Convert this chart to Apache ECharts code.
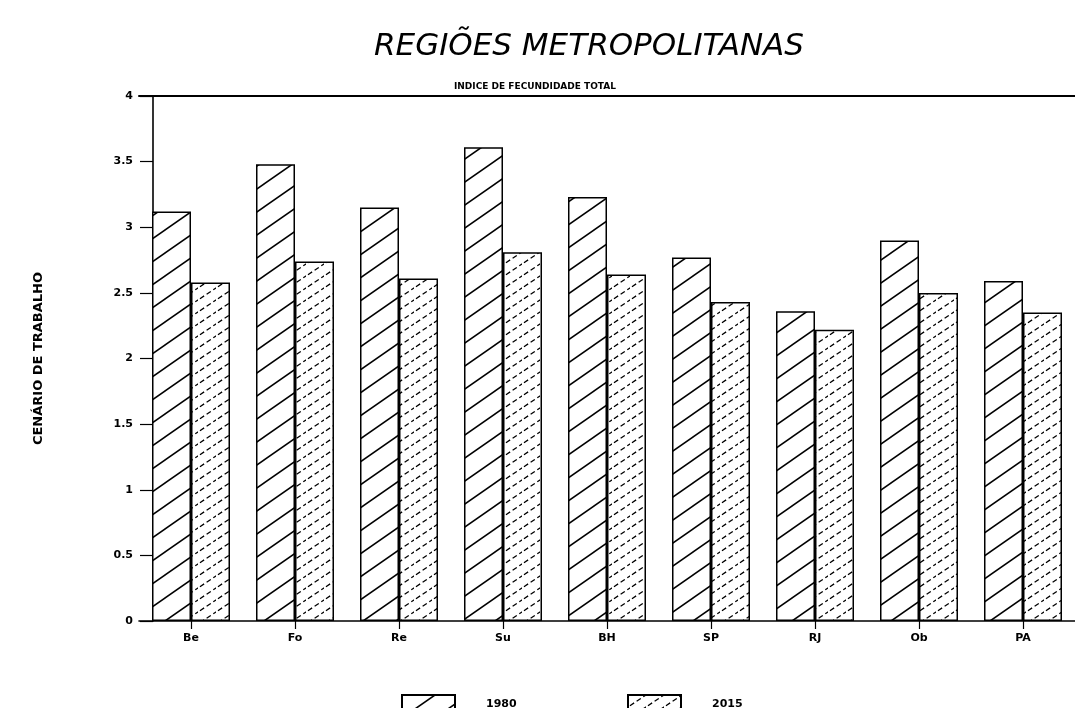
<!DOCTYPE html>
<html>
<head>
<meta charset="utf-8">
<script src="https://cdn.jsdelivr.net/npm/echarts@6/dist/echarts.min.js"></script>
<style>
html,body{margin:0;padding:0;background:#fff;}
#chart{width:1075px;height:708px;}
</style>
</head>
<body>
<div id="chart"></div>
<script>
const categories = ['Be', 'Fo', 'Re', 'Su', 'BH', 'SP', 'RJ', 'Ob', 'PA'];
const values1980 = [3.12, 3.48, 3.15, 3.61, 3.23, 2.77, 2.36, 2.90, 2.59];
const values2015 = [2.58, 2.74, 2.61, 2.81, 2.64, 2.43, 2.22, 2.50, 2.35];
const seriesNames = ['1980', '2015'];
const yTicks = { min: 0, max: 4, interval: 0.5 };
const titleText = 'REGIÕES METROPOLITANAS';
const subtitleText = 'INDICE DE FECUNDIDADE TOTAL';
const yAxisTitle = 'CENÁRIO DE TRABALHO';

function hatch(w, h, lw, dash) {
  const c = document.createElement('canvas');
  c.width = w; c.height = h;
  const ctx = c.getContext('2d');
  ctx.fillStyle = '#fff';
  ctx.fillRect(0, 0, w, h);
  ctx.strokeStyle = '#000';
  ctx.lineWidth = lw;
  if (dash) ctx.setLineDash(dash);
  for (let k = -1; k <= 1; k++) {
    ctx.beginPath();
    ctx.moveTo(-w, 2 * h + k * h);
    ctx.lineTo(2 * w, -h + k * h);
    ctx.stroke();
  }
  return c;
}
const pat1980 = { image: hatch(33, 23, 1.6, null), repeat: 'repeat' };
const pat2015 = { image: hatch(18, 12, 1.3, [5, 3]), repeat: 'repeat' };

const chart = echarts.init(document.getElementById('chart'), null, { renderer: 'canvas' });
const bold = { fontFamily: 'DejaVu Sans', fontWeight: 'bold', color: '#000' };

chart.setOption({
  backgroundColor: '#fff',
  animation: false,
  title: [
    { text: titleText, left: 584, top: 26, textAlign: 'center',
      textStyle: { fontFamily: 'DejaVu Sans', fontStyle: 'italic', fontWeight: 'normal', fontSize: 31, color: '#000' } },
    { text: subtitleText, left: 530, top: 77, textAlign: 'center',
      textStyle: Object.assign({}, bold, { fontSize: 9 }) }
  ],
  legend: [
    { data: [seriesNames[0]], left: 396, top: 689, itemWidth: 53, itemHeight: 18, icon: 'rect',
      textStyle: Object.assign({}, bold, { fontSize: 11, padding: [0, 0, 0, 26] }) },
    { data: [seriesNames[1]], left: 622, top: 689, itemWidth: 53, itemHeight: 18, icon: 'rect',
      textStyle: Object.assign({}, bold, { fontSize: 11, padding: [0, 0, 0, 26] }) }
  ],
  grid: { left: 139, right: -24, top: 96, bottom: 87, containLabel: false },
  xAxis: [
    { type: 'category', data: categories, position: 'bottom',
      axisLine: { lineStyle: { color: '#000', width: 1.6 } },
      axisTick: { show: true, alignWithLabel: true, length: 8, lineStyle: { color: '#000', width: 1.2 } },
      axisLabel: Object.assign({}, bold, { fontSize: 11, margin: 12 }),
      splitLine: { show: false } },
    { type: 'category', data: categories, position: 'top',
      axisLine: { lineStyle: { color: '#000', width: 2 } },
      axisTick: { show: false }, axisLabel: { show: false }, splitLine: { show: false } }
  ],
  yAxis: {
    type: 'value', min: yTicks.min, max: yTicks.max, interval: yTicks.interval,
    offset: -14,
    name: yAxisTitle, nameLocation: 'middle', nameRotate: 90, nameGap: 108,
    nameTextStyle: Object.assign({}, bold, { fontSize: 13 }),
    axisLine: { show: true, lineStyle: { color: '#000', width: 1.6 } },
    axisTick: { show: true, length: 13, lineStyle: { color: '#000', width: 1.2 } },
    axisLabel: Object.assign({}, bold, { fontSize: 11, margin: 20 }),
    splitLine: { show: false }
  },
  series: [
    { name: seriesNames[0], type: 'bar', data: values1980, barWidth: 39, barGap: '0%',
      itemStyle: { color: pat1980, borderColor: '#000', borderWidth: 1.5 } },
    { name: seriesNames[1], type: 'bar', data: values2015, barWidth: 39, barGap: '0%',
      itemStyle: { color: pat2015, borderColor: '#000', borderWidth: 1.5 } }
  ]
});
</script>
</body>
</html>
